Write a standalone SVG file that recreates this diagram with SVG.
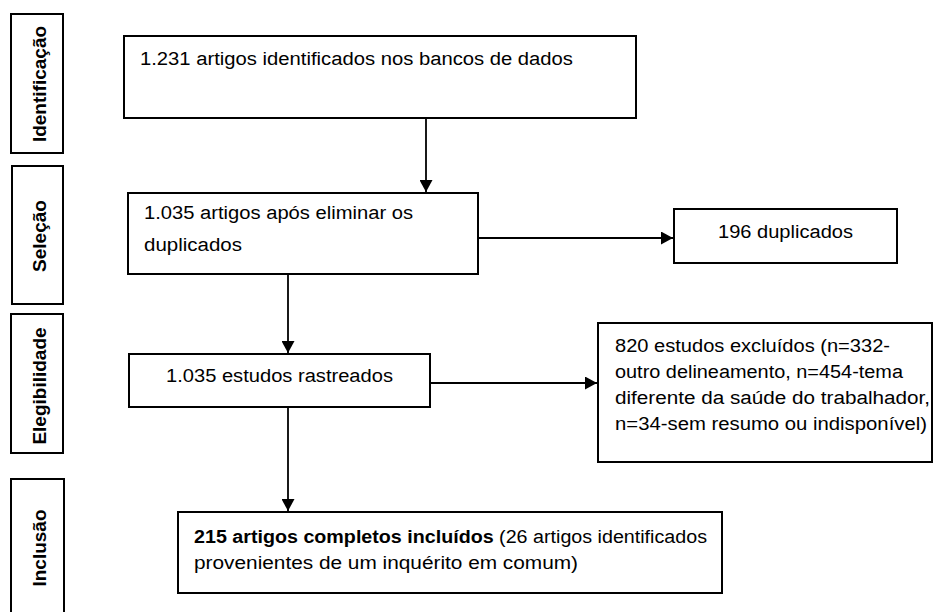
<svg xmlns="http://www.w3.org/2000/svg" width="934" height="612" viewBox="0 0 934 612">
<defs>
<style>
.box{fill:#fff;stroke:#000;stroke-width:2}
.lbl{font-family:"Liberation Sans",Arial,sans-serif;font-size:19px;font-weight:bold;fill:#000}
.t{font-family:"Liberation Sans",Arial,sans-serif;font-size:18px;fill:#000}
.b{font-weight:bold}
.c{fill:none;stroke:#000;stroke-width:1.8}
</style>
<marker id="ah" markerUnits="userSpaceOnUse" markerWidth="13" markerHeight="13" refX="12" refY="6.5" orient="auto">
<path d="M0,0 L12,6.5 L0,13 z" fill="#000"/>
</marker>
</defs>
<rect width="934" height="612" fill="#fff"/>

<g id="stage-identificacao">
<rect class="box" x="11" y="14" width="52" height="139"/>
<text class="lbl" transform="translate(46,84) rotate(-90)" text-anchor="middle">Identificação</text>
</g>
<g id="stage-selecao">
<rect class="box" x="12" y="166" width="51" height="138"/>
<text class="lbl" transform="translate(46,236) rotate(-90)" text-anchor="middle">Seleção</text>
</g>
<g id="stage-elegibilidade">
<rect class="box" x="11" y="314" width="52" height="139"/>
<text class="lbl" transform="translate(46,386) rotate(-90)" text-anchor="middle">Elegibilidade</text>
</g>
<g id="stage-inclusao">
<rect class="box" x="11" y="479" width="53" height="150"/>
<text class="lbl" transform="translate(46,548) rotate(-90)" text-anchor="middle">Inclusão</text>
</g>

<g id="connectors">
<line class="c" x1="426" y1="118" x2="426" y2="192" marker-end="url(#ah)"/>
<line class="c" x1="478" y1="238" x2="673" y2="238" marker-end="url(#ah)"/>
<line class="c" x1="288" y1="274" x2="288" y2="353" marker-end="url(#ah)"/>
<line class="c" x1="430" y1="383" x2="597" y2="383" marker-end="url(#ah)"/>
<line class="c" x1="288" y1="407" x2="288" y2="511" marker-end="url(#ah)"/>
</g>

<g id="n-identificados">
<rect class="box" x="124" y="36" width="512" height="82"/>
<text class="t" x="140" y="65" textLength="433" lengthAdjust="spacingAndGlyphs">1.231 artigos identificados nos bancos de dados</text>
</g>
<g id="n-apos-duplicados">
<rect class="box" x="128" y="193" width="350" height="81"/>
<text class="t" x="144" y="219" textLength="269" lengthAdjust="spacingAndGlyphs">1.035 artigos após eliminar os</text>
<text class="t" x="144" y="251" textLength="98" lengthAdjust="spacingAndGlyphs">duplicados</text>
</g>
<g id="n-duplicados">
<rect class="box" x="674" y="209" width="223" height="54"/>
<text class="t" x="718" y="238" textLength="135" lengthAdjust="spacingAndGlyphs">196 duplicados</text>
</g>
<g id="n-rastreados">
<rect class="box" x="129" y="354" width="301" height="53"/>
<text class="t" x="166" y="382" textLength="227" lengthAdjust="spacingAndGlyphs">1.035 estudos rastreados</text>
</g>
<g id="n-excluidos">
<rect class="box" x="598" y="323" width="334" height="139"/>
<text class="t" x="615" y="352" textLength="275" lengthAdjust="spacingAndGlyphs">820 estudos excluídos (n=332-</text>
<text class="t" x="615" y="378" textLength="288" lengthAdjust="spacingAndGlyphs">outro delineamento, n=454-tema</text>
<text class="t" x="615" y="404" textLength="315" lengthAdjust="spacingAndGlyphs">diferente da saúde do trabalhador,</text>
<text class="t" x="615" y="430" textLength="312" lengthAdjust="spacingAndGlyphs">n=34-sem resumo ou indisponível)</text>
</g>
<g id="n-incluidos">
<rect class="box" x="178" y="512" width="544" height="81"/>
<text class="t" x="194" y="543" textLength="513" lengthAdjust="spacingAndGlyphs"><tspan class="b">215 artigos completos incluídos</tspan> (26 artigos identificados</text>
<text class="t" x="194" y="569" textLength="384" lengthAdjust="spacingAndGlyphs">provenientes de um inquérito em comum)</text>
</g>
</svg>
